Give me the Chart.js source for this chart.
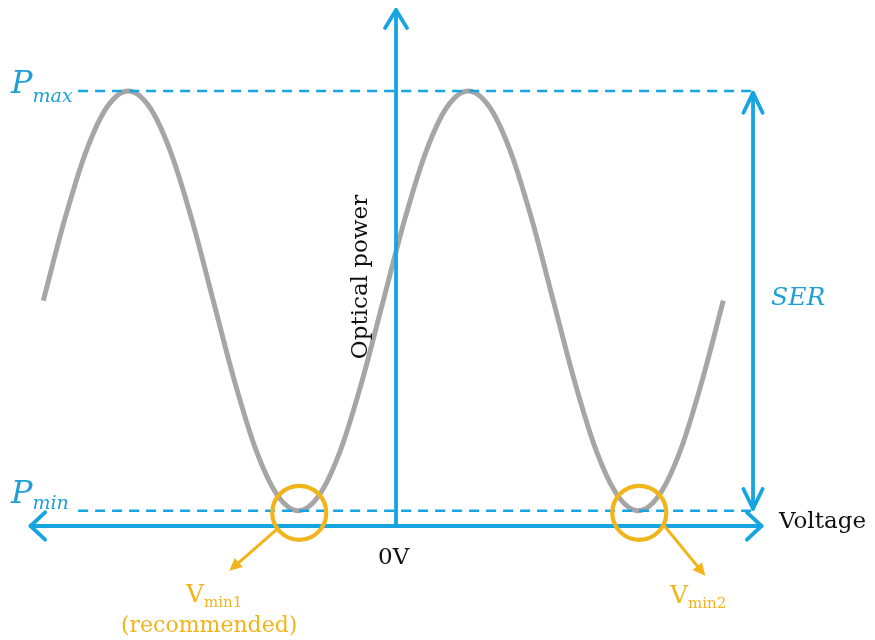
<!DOCTYPE html>
<html>
<head>
<meta charset="utf-8">
<script src="https://cdn.jsdelivr.net/npm/chart.js@4"></script>
<style>
  body { margin: 0; background: #fff; }
</style>
</head>
<body>
<canvas id="modChart" width="875" height="640"></canvas>
<script>
// bias voltage (arbitrary units, 0V on the vertical axis)
var voltage = [-4.15, -3.90, -3.65, -3.40, -3.15, -2.90, -2.65, -2.40, -2.15, -1.90, -1.65,
               -1.40, -1.15, -0.90, -0.65, -0.40, -0.15, 0.10, 0.35, 0.60, 0.85, 1.10,
               1.35, 1.60, 1.85, 2.10, 2.35, 2.60, 2.85, 3.10, 3.35, 3.60, 3.85];
// normalised optical power
var power = [0.518, 0.703, 0.859, 0.963, 1.000, 0.963, 0.859, 0.703, 0.518, 0.333, 0.176,
             0.072, 0.035, 0.072, 0.176, 0.333, 0.518, 0.703, 0.859, 0.963, 1.000, 0.963,
             0.859, 0.703, 0.518, 0.333, 0.176, 0.072, 0.035, 0.072, 0.176, 0.333, 0.518];
// Pmax, Pmin
var levels = [1.0, 0.035];
// Vmin1, Vmin2
var minima = [-1.15, 2.85];

var BLUE = '#17a5e1';
var TXT_BLUE = '#1f9fd6';
var GOLD = '#f1b41a';
var SERIF = '"DejaVu Serif", serif';

function chevron(ctx, x, y, ang, len, spread) {
    ctx.beginPath();
    ctx.moveTo(x - len * Math.cos(ang - spread), y - len * Math.sin(ang - spread));
    ctx.lineTo(x, y);
    ctx.lineTo(x - len * Math.cos(ang + spread), y - len * Math.sin(ang + spread));
    ctx.stroke();
}

function pointer(ctx, x1, y1, x2, y2) {
    var ang = Math.atan2(y2 - y1, x2 - x1);
    ctx.beginPath();
    ctx.moveTo(x1, y1);
    ctx.lineTo(x2 - 8 * Math.cos(ang), y2 - 8 * Math.sin(ang));
    ctx.stroke();
    ctx.beginPath();
    ctx.moveTo(x2, y2);
    ctx.lineTo(x2 - 14 * Math.cos(ang - 0.45), y2 - 14 * Math.sin(ang - 0.45));
    ctx.lineTo(x2 - 14 * Math.cos(ang + 0.45), y2 - 14 * Math.sin(ang + 0.45));
    ctx.closePath();
    ctx.fill();
}

function withSub(ctx, main, sub, x, y, mainFont, subFont, dy, gap) {
    ctx.font = mainFont;
    ctx.fillText(main, x, y);
    var w = ctx.measureText(main).width + (gap || 0);
    ctx.font = subFont;
    ctx.fillText(sub, x + w, y + dy);
    return w + ctx.measureText(sub).width;
}

var schematic = {
    id: 'schematic',
    afterDatasetsDraw: function (chart) {
        var ctx = chart.ctx;
        var xs = chart.scales.x, ys = chart.scales.y;
        var x0 = xs.getPixelForValue(0), y0 = ys.getPixelForValue(0);
        var yMax = ys.getPixelForValue(levels[0]);
        var yMin = ys.getPixelForValue(levels[1]);
        var xL = xs.getPixelForValue(-4.3), xR = xs.getPixelForValue(4.3);
        var xSer = xs.getPixelForValue(4.2);
        var yTop = ys.getPixelForValue(1.186);

        ctx.save();
        ctx.lineCap = 'round';
        ctx.lineJoin = 'round';

        // Pmax / Pmin dashed levels
        ctx.strokeStyle = BLUE;
        ctx.lineWidth = 2.4;
        ctx.setLineDash([10, 7]);
        ctx.lineCap = 'butt';
        ctx.beginPath();
        ctx.moveTo(xs.getPixelForValue(-3.74), yMax);
        ctx.lineTo(xSer, yMax);
        ctx.moveTo(xs.getPixelForValue(-3.74), yMin);
        ctx.lineTo(xSer, yMin);
        ctx.stroke();
        ctx.setLineDash([]);
        ctx.lineCap = 'round';

        // axes
        ctx.lineWidth = 3.8;
        ctx.beginPath();
        ctx.moveTo(xL, y0);
        ctx.lineTo(xR, y0);
        ctx.moveTo(x0, y0);
        ctx.lineTo(x0, yTop);
        ctx.stroke();
        chevron(ctx, xR, y0, 0, 20, 0.75);
        chevron(ctx, xL, y0, Math.PI, 20, 0.75);
        chevron(ctx, x0, yTop, -Math.PI / 2, 21, 0.55);

        // SER double arrow
        ctx.beginPath();
        ctx.moveTo(xSer, yMax + 2);
        ctx.lineTo(xSer, yMin - 2);
        ctx.stroke();
        chevron(ctx, xSer, yMax + 2, -Math.PI / 2, 22, 0.45);
        chevron(ctx, xSer, yMin - 2, Math.PI / 2, 22, 0.45);

        // circles at the minima
        ctx.strokeStyle = GOLD;
        ctx.fillStyle = GOLD;
        ctx.lineWidth = 4.2;
        minima.forEach(function (v) {
            ctx.beginPath();
            ctx.arc(xs.getPixelForValue(v) + 1, yMin + 2, 27, 0, Math.PI * 2);
            ctx.stroke();
        });
        ctx.lineWidth = 3;
        var c1 = xs.getPixelForValue(minima[0]) + 1, c2 = xs.getPixelForValue(minima[1]) + 1;
        pointer(ctx, c1 - 23, yMin + 19, c1 - 70, yMin + 60);
        pointer(ctx, c2 + 25, yMin + 15, c2 + 66, yMin + 65);

        // labels
        ctx.textBaseline = 'alphabetic';
        ctx.textAlign = 'left';
        ctx.fillStyle = GOLD;
        withSub(ctx, 'V', 'min1', 186, 602, '25px ' + SERIF, '15px ' + SERIF, 5);
        ctx.font = '22px ' + SERIF;
        ctx.fillText('(recommended)', 121, 632);
        withSub(ctx, 'V', 'min2', 670, 603, '25px ' + SERIF, '15px ' + SERIF, 5);

        ctx.fillStyle = TXT_BLUE;
        withSub(ctx, 'P', 'max', 11, 93, 'italic 32px ' + SERIF, 'italic 19px ' + SERIF, 9, 0);
        withSub(ctx, 'P', 'min', 11, 503, 'italic 32px ' + SERIF, 'italic 19px ' + SERIF, 6, 0);
        ctx.font = 'italic 25px ' + SERIF;
        ctx.fillText('SER', 771, 305);

        ctx.fillStyle = '#111';
        ctx.font = '23px ' + SERIF;
        ctx.fillText('Voltage', 779, 528);
        ctx.fillText('0V', 378, 564);

        ctx.save();
        ctx.translate(367, 277);
        ctx.rotate(-Math.PI / 2);
        ctx.textAlign = 'center';
        ctx.fillText('Optical power', 0, 0);
        ctx.restore();

        ctx.restore();
    }
};

var points = voltage.map(function (v, i) { return { x: v, y: power[i] }; });

var ctx = document.getElementById('modChart').getContext('2d');
var chart = new Chart(ctx, {
    type: 'line',
    data: {
        datasets: [{
            label: 'Optical power',
            data: points,
            borderColor: '#a6a6a6',
            borderWidth: 5,
            pointRadius: 0,
            cubicInterpolationMode: 'monotone',
            fill: false
        }]
    },
    options: {
        responsive: false,
        animation: false,
        layout: { padding: 0 },
        plugins: {
            legend: { display: false },
            tooltip: { enabled: false },
            title: { display: false }
        },
        scales: {
            x: { type: 'linear', display: false, min: -4.659, max: 5.635 },
            y: { type: 'linear', display: false, min: -0.262, max: 1.209 }
        }
    },
    plugins: [schematic]
});
</script>
</body>
</html>
